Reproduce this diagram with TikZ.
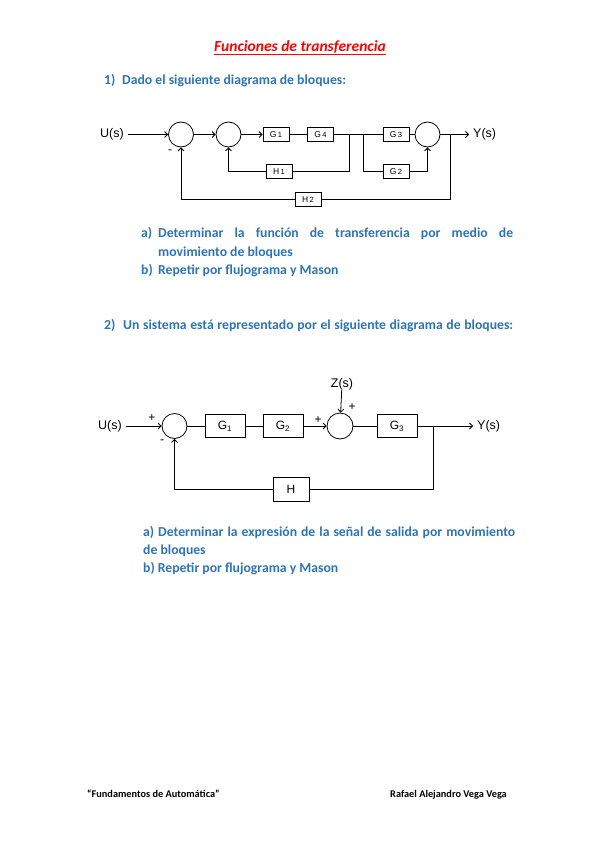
\documentclass[tikz,border=0pt]{standalone}
\usepackage{fontspec}
\setmainfont{Carlito}
\newfontfamily\diagfont{Liberation Sans}
\usetikzlibrary{arrows.meta,positioning}
\definecolor{itemblue}{RGB}{46,116,181}
\definecolor{titlered}{RGB}{255,0,0}
\newcommand{\blkidx}[2]{#1\,\raisebox{-0.8pt}{\fontsize{7.5}{8}\selectfont #2}}
\tikzset{
  sum/.style={
    circle,
    draw=black,
    line width=0.8pt,
    minimum size=25pt,
    inner sep=0pt
  },
  block/.style={
    rectangle,
    draw=black,
    line width=0.8pt,
    minimum width=26pt,
    minimum height=14pt,
    inner sep=0pt,
    font=\diagfont\fontsize{8.5}{9}\selectfont
  },
  bigblock/.style={
    block,
    minimum width=40pt,
    minimum height=23pt,
    font=\diagfont\fontsize{12}{14}\selectfont
  },
  signal/.style={
    inner sep=0pt,
    inner xsep=4pt,
    font=\diagfont\fontsize{12.5}{14}\selectfont
  },
  sign/.style={
    inner sep=0pt,
    font=\diagfont\fontsize{12}{13}\selectfont
  },
  arrow/.style={
    line width=0.8pt,
    -{Straight Barb[length=3pt,width=6pt]},
  },
  wire/.style={
    line width=0.8pt,
  },
  item/.style={
    inner sep=0pt,
    anchor=base west,
    text=itemblue,
    font=\bfseries\fontsize{13.7}{16}\selectfont
  },
  foot/.style={
    inner sep=0pt,
    text=black,
    font=\bfseries\fontsize{10.3}{12}\selectfont
  },
}

\begin{document}
\begin{tikzpicture}[x=1pt, y=-1pt]
  \useasboundingbox (0,0) rectangle (599,848);

  % Heading and first question
  \node (title) [inner sep=0pt, text=titlered, font=\bfseries\itshape\fontsize{15.5}{17}\selectfont]
    at (300,47.5) {\underline{Funciones de transferencia}};
  \node (q1) [item] at (104,85) {\makebox[18pt][l]{1)}Dado el siguiente diagrama de bloques:};

  % First diagram: blocks
  \node (U1) [signal] at (112,134.5) {U(s)};
  \node (s11) [sum] at (181,134.5) {};
  \node (s12) [sum] at (228.5,134.5) {};
  \node (G1a) [block] at (276,134.5) {\blkidx{G}{1}};
  \node (G4a) [block] at (320.5,134.5) {\blkidx{G}{4}};
  \node (G3a) [block] at (396,134.5) {\blkidx{G}{3}};
  \node (s13) [sum] at (427.5,134.5) {};
  \node (Y1) [signal, anchor=west] at (469,134.5) {Y(s)};
  \node (H1a) [block] at (279,171.5) {\blkidx{H}{1}};
  \node (G2a) [block] at (396,171.5) {\blkidx{G}{2}};
  \node (H2a) [block] at (308,199.5) {\blkidx{H}{2}};
  \node (m11) [sign] at (170,152) {-};
  \coordinate (b11) at (349,134.5);
  \coordinate (b12) at (363,134.5);
  \coordinate (b13) at (450,134.5);

  % First diagram: arrows
  \draw [arrow] (U1) -- (s11);
  \draw [arrow] (s11) -- (s12);
  \draw [arrow] (s12) -- (G1a);
  \draw [wire] (G1a) -- (G4a);
  \draw [wire] (G4a) -- (G3a);
  \draw [wire] (G3a) -- (s13);
  \draw [arrow] (s13) -- (Y1.west);
  \draw [wire] (b11) |- (H1a);
  \draw [arrow] (H1a) -| (s12.south);
  \draw [wire] (b12) |- (G2a);
  \draw [arrow] (G2a) -| (s13.south);
  \draw [wire] (b13) |- (H2a);
  \draw [arrow] (H2a) -| (s11.south);

  % Tasks of the first question
  \node (q1a) [item] at (141,237) {a)};
  \node (q1a1) [item] at (158,237) {\makebox[355pt][s]{Determinar la función de transferencia por medio de}};
  \node (q1a2) [item] at (158,256) {movimiento de bloques};
  \node (q1b) [item] at (141,274) {b)};
  \node (q1b1) [item] at (158,274) {Repetir por flujograma y Mason};

  % Second question
  \node (q2) [item] at (104,329) {\makebox[19pt][l]{2)}\makebox[390pt][s]{Un sistema está representado por el siguiente diagrama de bloques:}};

  % Second diagram: blocks
  \node (Z2) [signal] at (342,384) {Z(s)};
  \node (U2) [signal] at (110,426) {U(s)};
  \node (s21) [sum] at (174.5,426) {};
  \node (G12) [bigblock] at (225,426) {G\textsubscript{1}};
  \node (G22) [bigblock] at (283,426) {G\textsubscript{2}};
  \node (s22) [sum, minimum size=26pt] at (340,426) {};
  \node (G32) [bigblock] at (397,426) {G\textsubscript{3}};
  \node (Y2) [signal, anchor=west] at (473,426) {Y(s)};
  \node (H22) [bigblock, minimum width=36pt, minimum height=24pt] at (291,489) {H};
  \node (p21) [sign] at (152,418) {+};
  \node (m21) [sign] at (162,442) {-};
  \node (p22) [sign] at (318,420) {+};
  \node (p23) [sign] at (352,407) {+};
  \coordinate (b21) at (433,426);

  % Second diagram: arrows
  \draw [arrow] (U2) -- (s21);
  \draw [wire] (s21) -- (G12);
  \draw [wire] (G12) -- (G22);
  \draw [arrow] (G22) -- (s22);
  \draw [arrow] (Z2) -- (s22);
  \draw [wire] (s22) -- (G32);
  \draw [arrow] (G32) -- (Y2.west);
  \draw [wire] (b21) |- (H22);
  \draw [arrow] (H22) -| (s21.south);

  % Tasks of the second question
  \node (q2a) [item] at (143,536) {\makebox[372pt][s]{a) Determinar la expresión de la señal de salida por movimiento}};
  \node (q2a2) [item] at (143,554) {de bloques};
  \node (q2b) [item] at (143,572) {b) Repetir por flujograma y Mason};

  % Footer
  \node (f1) [foot, anchor=base west] at (87,797) {“Fundamentos de Automática”};
  \node (f2) [foot, anchor=base east] at (507,797) {Rafael Alejandro Vega Vega};

\end{tikzpicture}
\end{document}
